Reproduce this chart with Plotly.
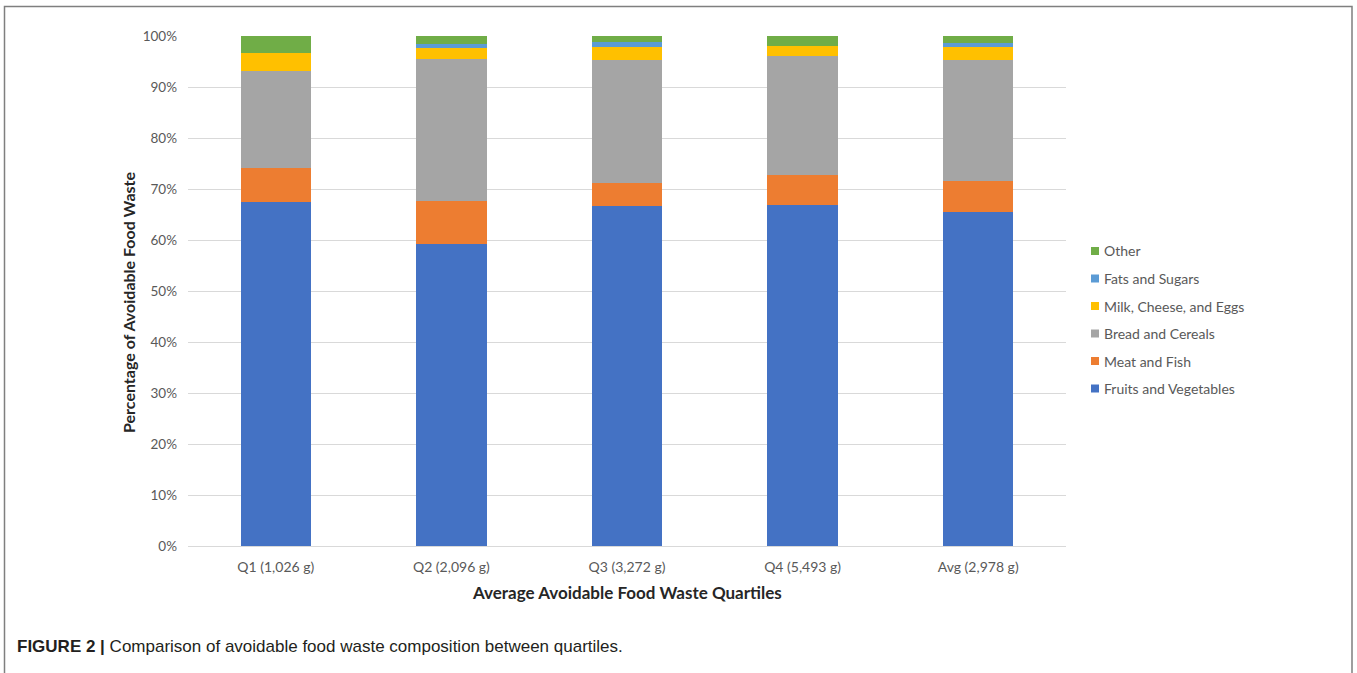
import plotly.graph_objects as go

# Quartile categories and their share of avoidable food waste (%)
categories = ["Q1 (1,026 g)", "Q2 (2,096 g)", "Q3 (3,272 g)", "Q4 (5,493 g)", "Avg (2,978 g)"]
fruits_vegetables = [67.5, 59.2, 66.7, 66.8, 65.5]
meat_fish = [6.6, 8.4, 4.5, 5.9, 6.1]
bread_cereals = [19.1, 27.8, 24.0, 23.4, 23.7]
milk_cheese_eggs = [3.4, 2.2, 2.6, 1.9, 2.5]
fats_sugars = [0.0, 0.8, 1.0, 0.0, 0.8]
other = [3.4, 1.6, 1.2, 2.0, 1.4]

series = [
    ("Fruits and Vegetables", fruits_vegetables, "#4472C4"),
    ("Meat and Fish", meat_fish, "#ED7D31"),
    ("Bread and Cereals", bread_cereals, "#A5A5A5"),
    ("Milk, Cheese, and Eggs", milk_cheese_eggs, "#FFC000"),
    ("Fats and Sugars", fats_sugars, "#5B9BD5"),
    ("Other", other, "#70AD47"),
]

W, H = 1357, 673
L, R, T, B = 188, 1066, 36, 546  # plot area in pixels


def px(x):
    return (x - L) / (R - L)


def py(y):
    return (B - y) / (B - T)


fig = go.Figure()
for name, vals, color in series:
    fig.add_trace(go.Bar(
        x=categories,
        y=[v / 100 for v in vals],
        name=name,
        marker=dict(color=color, line=dict(width=0)),
        showlegend=False,
    ))

label_font = "Lato, 'Open Sans', sans-serif"

annotations = [
    dict(
        text="<b>Percentage of Avoidable Food Waste</b>",
        x=px(128), y=py(303), xref="paper", yref="paper",
        textangle=-90, showarrow=False, xanchor="center", yanchor="middle",
        font=dict(family=label_font, size=16, color="#262626"),
    ),
    dict(
        text="<b>Average Avoidable Food Waste Quartiles</b>",
        x=px(627), y=py(592), xref="paper", yref="paper",
        showarrow=False, xanchor="center", yanchor="middle",
        font=dict(family=label_font, size=17, color="#262626"),
    ),
    dict(
        text="<b>FIGURE 2 |</b> Comparison of avoidable food waste composition between quartiles.",
        x=px(15), y=py(646), xref="paper", yref="paper",
        showarrow=False, xanchor="left", yanchor="middle",
        font=dict(family="'Liberation Sans', Arial, sans-serif", size=17, color="#231F20"),
    ),
]

shapes = [
    dict(
        type="rect", xref="paper", yref="paper",
        x0=px(4.5), x1=px(1352), y0=py(690), y1=py(6.5),
        line=dict(color="#7F7F7F", width=1.5), fillcolor="rgba(0,0,0,0)", layer="below",
    ),
]

# Legend drawn as small swatches with labels, topmost series first
legend_rows = [251, 278.5, 306, 333.5, 361, 388.5]
for row_y, (name, _, color) in zip(legend_rows, reversed(series)):
    shapes.append(dict(
        type="rect", xref="paper", yref="paper",
        x0=px(1091), x1=px(1099), y0=py(row_y + 4), y1=py(row_y - 4),
        line=dict(width=0), fillcolor=color,
    ))
    annotations.append(dict(
        text=name, x=px(1102), y=py(row_y), xref="paper", yref="paper",
        showarrow=False, xanchor="left", yanchor="middle",
        font=dict(family=label_font, size=14, color="#595959"),
    ))

fig.update_layout(
    width=W, height=H,
    margin=dict(l=L, r=W - R, t=T, b=H - B, pad=0),
    barmode="stack",
    bargap=0.6,
    plot_bgcolor="white",
    paper_bgcolor="white",
    showlegend=False,
    xaxis=dict(
        showgrid=False, showline=True, linecolor="#D9D9D9", linewidth=1,
        ticks="", tickfont=dict(family=label_font, size=14, color="#595959"),
        ticklabelstandoff=8,
    ),
    yaxis=dict(
        range=[0, 1], tickformat=".0%", dtick=0.1,
        showgrid=True, gridcolor="#D9D9D9", gridwidth=1,
        zeroline=False, showline=False, ticks="",
        tickfont=dict(family=label_font, size=13.5, color="#595959"),
        ticklabelstandoff=10,
    ),
    annotations=annotations,
    shapes=shapes,
)

fig.write_html("out.html")
